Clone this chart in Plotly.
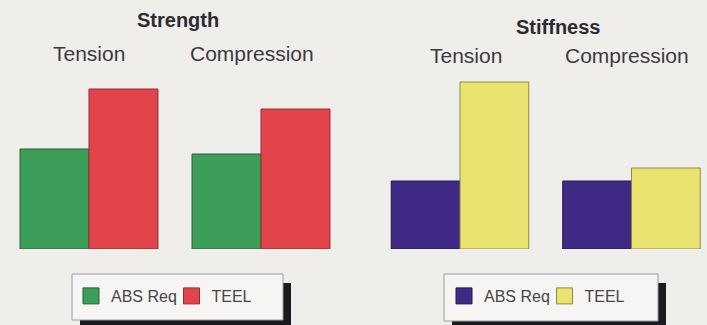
import plotly.graph_objects as go

# Test categories shared by both panels
categories = ["Tension", "Compression"]

# Strength panel (relative units)
strength_abs_req = [100, 95]
strength_teel = [160, 140]

# Stiffness panel (relative units)
stiffness_abs_req = [68, 68]
stiffness_teel = [167, 81]

series_names = ["ABS Req", "TEEL"]
panel_titles = ["Strength", "Stiffness"]

W, H = 707, 325
BG = "#f0eeeb"
FONT = "Liberation Sans, Arial, sans-serif"

GREEN, RED = "#3c9e58", "#e3434b"
PURPLE, YELLOW = "#402985", "#e9e46f"

fig = go.Figure()

panels = [
    ("x", "y", strength_abs_req, strength_teel, GREEN, RED, "#2a5f38", "#8f3035", "legend"),
    ("x2", "y2", stiffness_abs_req, stiffness_teel, PURPLE, YELLOW, "#241850", "#8e8a45", "legend2"),
]
for xa, ya, abs_vals, teel_vals, c1, c2, l1, l2, leg in panels:
    for name, vals, col, lc in [(series_names[0], abs_vals, c1, l1),
                                (series_names[1], teel_vals, c2, l2)]:
        fig.add_trace(go.Bar(
            x=categories, y=vals, name=name, xaxis=xa, yaxis=ya,
            marker=dict(color=col, line=dict(color=lc, width=1)),
            showlegend=False, hoverinfo="skip",
        ))
        # Larger square swatch for the legend key
        fig.add_trace(go.Scatter(
            x=[None], y=[None], name=name, xaxis=xa, yaxis=ya, mode="markers",
            marker=dict(symbol="square", size=16, color=col, line=dict(color=lc, width=1)),
            legend=leg, hoverinfo="skip",
        ))

def px_x(p):
    return p / W

def px_y(p):
    return 1 - p / H

# Shared vertical scale: baseline at y=249 px, one unit per pixel
y_bottom = 249
ydom = [(H - y_bottom) / H, 1]
yrange = [0, y_bottom]

legend_style = dict(orientation="h", xanchor="left", yanchor="top",
                    bgcolor="rgba(0,0,0,0)", borderwidth=0, itemsizing="trace",
                    entrywidth=55.5, entrywidthmode="pixels",
                    font=dict(size=16, color="#45454c", family=FONT))

fig.update_layout(
    width=W, height=H,
    margin=dict(l=0, r=0, t=0, b=0),
    paper_bgcolor=BG, plot_bgcolor=BG,
    barmode="group", bargap=0.198, bargroupgap=0,
    showlegend=True,
    font=dict(family=FONT, color="#3b3b40"),
    xaxis=dict(domain=[0, 0.5], range=[-0.5174, 1.5378], visible=False,
               categoryorder="array", categoryarray=categories),
    xaxis2=dict(domain=[0.5, 1], range=[-0.621, 1.4403], visible=False,
                categoryorder="array", categoryarray=categories),
    yaxis=dict(domain=ydom, range=yrange, visible=False),
    yaxis2=dict(domain=ydom, range=yrange, visible=False, anchor="x2"),
    legend=dict(x=px_x(71), y=px_y(279), **legend_style),
    legend2=dict(x=px_x(444), y=px_y(279), **legend_style),
)

# Legend frames with drop shadows
shapes = []
for x0, x1, y0, y1 in [(72, 283, 274, 320), (444, 658, 274, 321)]:
    shapes.append(dict(type="rect", xref="paper", yref="paper", layer="above",
                       x0=px_x(x0 + 8), x1=px_x(x1 + 8), y0=px_y(y0 + 9), y1=px_y(H + 5),
                       fillcolor="#1c1a1f", line=dict(width=0)))
    shapes.append(dict(type="rect", xref="paper", yref="paper", layer="above",
                       x0=px_x(x0), x1=px_x(x1), y0=px_y(y0), y1=px_y(y1),
                       fillcolor="#f6f5f3", line=dict(color="#9c9aa0", width=1)))
fig.update_layout(shapes=shapes)

annotations = []
# Panel titles
for title, cx, cy in [(panel_titles[0], 178, 20), (panel_titles[1], 558, 27.4)]:
    annotations.append(dict(text=f"<b>{title}</b>", xref="paper", yref="paper",
                            x=px_x(cx), y=px_y(cy), xanchor="center", yanchor="middle",
                            showarrow=False, font=dict(size=20, color="#2c2b30", family=FONT)))
# Category labels above each bar group
for xr, yc, shifts in [("x", 53.2, [0, -9.5]), ("x2", 55.7, [6, -4])]:
    for cat, sh in zip(categories, shifts):
        annotations.append(dict(text=cat, xref=xr, yref="paper", x=cat, xshift=sh,
                                y=px_y(yc), xanchor="center", yanchor="middle",
                                showarrow=False, font=dict(size=21, color="#3a3a40", family=FONT)))
fig.update_layout(annotations=annotations)

fig.write_html("out.html")
